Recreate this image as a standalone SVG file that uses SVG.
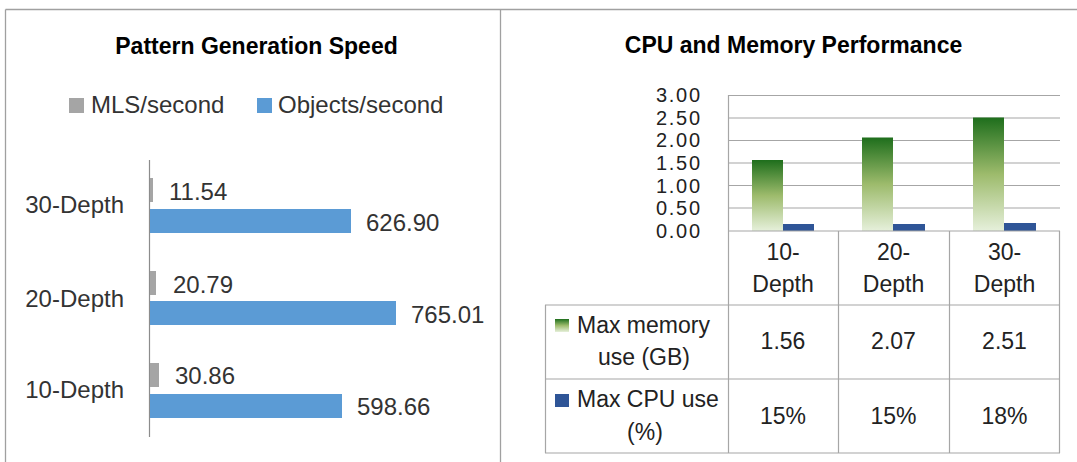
<svg xmlns="http://www.w3.org/2000/svg" width="1077" height="462" viewBox="0 0 1077 462">
  <style>
    .frame { stroke: #A0A0A0; stroke-width: 1.3; fill: none; }
    .grid { stroke: #A6A6A6; stroke-width: 1.2; fill: none; }
    .title { font-family: "Liberation Sans", Arial, sans-serif; font-weight: bold; font-size: 23px; fill: #000000; text-anchor: middle; }
    .lbl { font-family: "Liberation Sans", Arial, sans-serif; font-size: 24px; fill: #333333; }
    .rl { font-family: "Liberation Sans", Arial, sans-serif; font-size: 23px; fill: #222222; }
    .ax { font-family: "Liberation Sans", Arial, sans-serif; font-size: 20px; fill: #222222; text-anchor: end; }
    .mid { text-anchor: middle; }
    .end { text-anchor: end; }
    .gray { fill: #A5A5A5; }
    .blue { fill: #5B9BD5; }
    .cpu { fill: #2F5597; }
    .mem { fill: url(#memGrad); }
  </style>
  <defs>
    <linearGradient id="memGrad" x1="0" y1="0" x2="0" y2="1">
      <stop offset="0" stop-color="#1E6E1C"/>
      <stop offset="0.5" stop-color="#9DBB6C"/>
      <stop offset="1" stop-color="#E6F0DB"/>
    </linearGradient>
  </defs>

  <rect width="1077" height="462" fill="#FFFFFF"/>

  <!-- frame -->
  <g id="frame">
    <line class="frame" x1="5.5" y1="9.5" x2="1077" y2="9.5"/>
    <line class="frame" x1="5.5" y1="9.5" x2="5.5" y2="462"/>
    <line class="frame" x1="500.5" y1="9.5" x2="500.5" y2="462"/>
  </g>

  <!-- Left chart -->
  <g id="speed-chart">
    <text class="title" x="256.5" y="54">Pattern Generation Speed</text>
    <g id="speed-legend">
      <rect class="gray" x="69" y="98" width="15" height="15"/>
      <text class="lbl" x="91" y="113">MLS/second</text>
      <rect class="blue" x="257" y="98" width="15" height="15"/>
      <text class="lbl" x="278" y="113">Objects/second</text>
    </g>
    <line x1="149.5" y1="160" x2="149.5" y2="437" stroke="#8C8C8C" stroke-width="1.2"/>

    <g id="cat-30">
      <text class="lbl end" x="124" y="213">30-Depth</text>
      <rect class="gray" x="150" y="178" width="3" height="24"/>
      <text class="lbl" x="169" y="200">11.54</text>
      <rect class="blue" x="150" y="209" width="201" height="24"/>
      <text class="lbl" x="366" y="231">626.90</text>
    </g>
    <g id="cat-20">
      <text class="lbl end" x="124" y="307">20-Depth</text>
      <rect class="gray" x="150" y="271" width="6" height="24"/>
      <text class="lbl" x="173" y="293">20.79</text>
      <rect class="blue" x="150" y="301" width="246" height="24"/>
      <text class="lbl" x="411" y="323">765.01</text>
    </g>
    <g id="cat-10">
      <text class="lbl end" x="124" y="398">10-Depth</text>
      <rect class="gray" x="150" y="363" width="9" height="24"/>
      <text class="lbl" x="175" y="384">30.86</text>
      <rect class="blue" x="150" y="394" width="192" height="24"/>
      <text class="lbl" x="357" y="415">598.66</text>
    </g>
  </g>

  <!-- Right chart -->
  <g id="perf-chart">
    <text class="title" x="793.5" y="53">CPU and Memory Performance</text>

    <g id="y-axis">
      <text class="ax" x="700" y="102" textLength="44" lengthAdjust="spacing">3.00</text>
      <text class="ax" x="700" y="124.5" textLength="44" lengthAdjust="spacing">2.50</text>
      <text class="ax" x="700" y="147" textLength="44" lengthAdjust="spacing">2.00</text>
      <text class="ax" x="700" y="170" textLength="44" lengthAdjust="spacing">1.50</text>
      <text class="ax" x="700" y="192.5" textLength="44" lengthAdjust="spacing">1.00</text>
      <text class="ax" x="700" y="215" textLength="44" lengthAdjust="spacing">0.50</text>
      <text class="ax" x="700" y="238" textLength="44" lengthAdjust="spacing">0.00</text>
    </g>

    <g id="gridlines">
      <line class="grid" x1="728" y1="95.5" x2="1060" y2="95.5"/>
      <line class="grid" x1="728" y1="118" x2="1060" y2="118"/>
      <line class="grid" x1="728" y1="140.5" x2="1060" y2="140.5"/>
      <line class="grid" x1="728" y1="163" x2="1060" y2="163"/>
      <line class="grid" x1="728" y1="185.5" x2="1060" y2="185.5"/>
      <line class="grid" x1="728" y1="208" x2="1060" y2="208"/>
    </g>

    <g id="bars">
      <rect class="mem" x="752" y="160" width="31" height="71"/>
      <rect class="cpu" x="783" y="224" width="31" height="7"/>
      <rect class="mem" x="862" y="137.5" width="31" height="93.5"/>
      <rect class="cpu" x="893" y="224" width="32" height="7"/>
      <rect class="mem" x="973" y="117.5" width="31" height="113.5"/>
      <rect class="cpu" x="1004" y="223" width="32" height="8"/>
    </g>

    <g id="table-lines">
      <line class="grid" x1="728.5" y1="95" x2="728.5" y2="453"/>
      <line class="grid" x1="728" y1="231" x2="1060" y2="231"/>
      <line class="grid" x1="545" y1="305" x2="1060" y2="305"/>
      <line class="grid" x1="545" y1="379" x2="1060" y2="379"/>
      <line class="grid" x1="545" y1="453" x2="1060" y2="453"/>
      <line class="grid" x1="545.5" y1="305" x2="545.5" y2="453"/>
      <line class="grid" x1="838.5" y1="231" x2="838.5" y2="453"/>
      <line class="grid" x1="949.5" y1="231" x2="949.5" y2="453"/>
      <line class="grid" x1="1059.5" y1="231" x2="1059.5" y2="453"/>
    </g>

    <g id="header">
      <text class="rl mid" x="783" y="260">10-</text>
      <text class="rl mid" x="783" y="292">Depth</text>
      <text class="rl mid" x="893.5" y="260">20-</text>
      <text class="rl mid" x="893.5" y="292">Depth</text>
      <text class="rl mid" x="1004.5" y="260">30-</text>
      <text class="rl mid" x="1004.5" y="292">Depth</text>
    </g>

    <g id="row-memory">
      <rect class="mem" x="555" y="319" width="14" height="13"/>
      <text class="rl" x="577" y="333">Max memory</text>
      <text class="rl mid" x="644" y="365">use (GB)</text>
      <text class="rl mid" x="783" y="349">1.56</text>
      <text class="rl mid" x="893.5" y="349">2.07</text>
      <text class="rl mid" x="1004.5" y="349">2.51</text>
    </g>

    <g id="row-cpu">
      <rect class="cpu" x="555" y="394" width="14" height="13"/>
      <text class="rl" x="577" y="407">Max CPU use</text>
      <text class="rl mid" x="645" y="440">(%)</text>
      <text class="rl mid" x="783" y="424">15%</text>
      <text class="rl mid" x="893.5" y="424">15%</text>
      <text class="rl mid" x="1004.5" y="424">18%</text>
    </g>
  </g>
</svg>
